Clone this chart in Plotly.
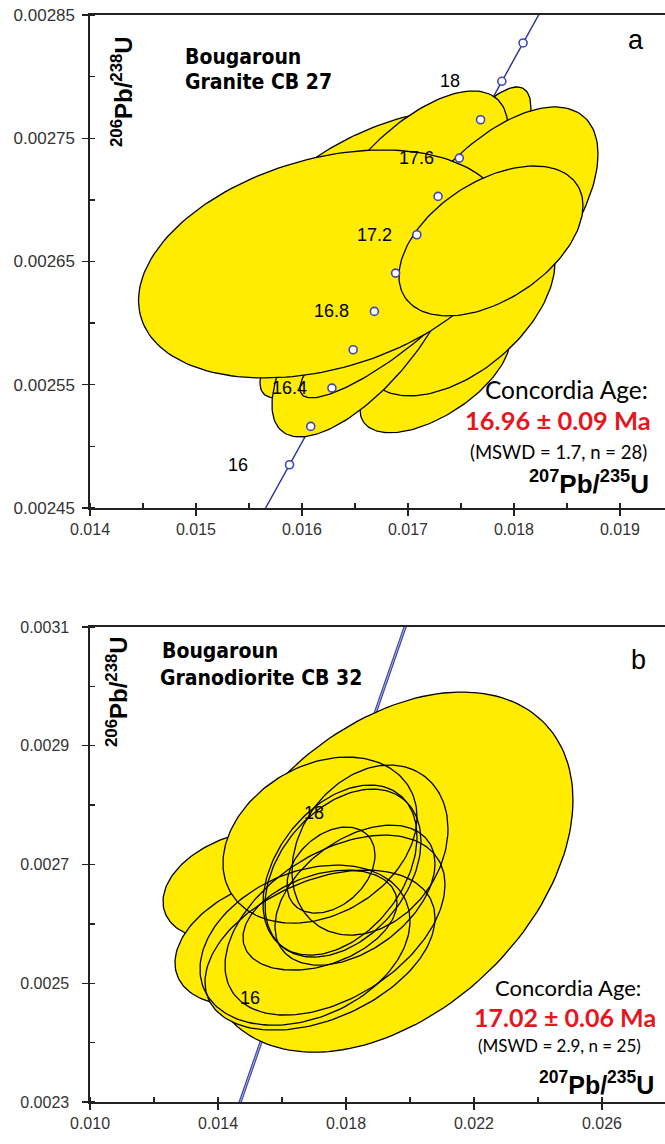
import numpy as np
import plotly.graph_objects as go

W, H = 665, 1144

# ---------------- data ----------------
# Panel a (Granite CB 27): ellipse centres and 2-sigma half widths, error correlation
a_names = ["a06", "a03", "a02", "a04", "a10", "a12", "a07", "a08", "a09", "a01", "a05"]
a_x   = [0.016736, 0.017500, 0.017000, 0.017774, 0.017255, 0.017472, 0.016547, 0.016594, 0.016830, 0.016203, 0.017783]
a_sx  = [0.001415, 0.000660, 0.000943, 0.001019, 0.000708, 0.000915, 0.000943, 0.000877, 0.000849, 0.001745, 0.000868]
a_y   = [0.0026837, 0.0027064, 0.0027024, 0.0026797, 0.0025581, 0.0026132, 0.0026205, 0.0025945, 0.0025978, 0.0026480, 0.0026667]
a_sy  = [0.0000892, 0.0000852, 0.0000860, 0.0000957, 0.0000470, 0.0000722, 0.0000811, 0.0000868, 0.0000584, 0.0000925, 0.0000608]
a_rho = [0.50, 0.80, 0.65, 0.60, 0.60, 0.50, 0.85, 0.70, 0.87, 0.32, 0.47]

# Panel b (Granodiorite CB 32)
b_back_x   = [0.0193125, 0.0148438, 0.0156250]
b_back_sx  = [0.0057800, 0.0025625, 0.0029688]
b_back_y   = [0.0026872, 0.0026653, 0.0025726]
b_back_sy  = [0.0003033, 0.0000927, 0.0001095]
b_back_rho = [0.40, 0.30, 0.35]

b_x   = [0.0171875, 0.0176563, 0.0167188, 0.0171875, 0.0187500, 0.0178125, 0.0179063, 0.0182813, 0.0171875, 0.0175313]
b_sx  = [0.0035938, 0.0034375, 0.0032813, 0.0030313, 0.0024375, 0.0024063, 0.0024375, 0.0025000, 0.0024063, 0.0013750]
b_y   = [0.0025558, 0.0025979, 0.0025642, 0.0027411, 0.0027243, 0.0026906, 0.0026855, 0.0026484, 0.0026063, 0.0026906]
b_sy  = [0.0001348, 0.0001516, 0.0001348, 0.0001398, 0.0001432, 0.0001432, 0.0001415, 0.0001179, 0.0000842, 0.0000725]
b_rho = [0.40, 0.45, 0.30, 0.28, 0.25, 0.39, 0.38, 0.45, 0.35, 0.35]

# Concordia age markers (Ma) and ratios
conc_age = [16.0, 16.2, 16.4, 16.6, 16.8, 17.0, 17.2, 17.4, 17.6, 17.8, 18.0, 18.2]
conc_x   = [0.0158824, 0.0160826, 0.0162826, 0.0164828, 0.0166831, 0.0168834,
            0.0170837, 0.0172841, 0.0174845, 0.0176849, 0.0178853, 0.0180859]
conc_y   = [0.0024851, 0.0025162, 0.0025473, 0.0025784, 0.0026095, 0.0026406,
            0.0026717, 0.0027028, 0.0027339, 0.0027650, 0.0027962, 0.0028273]
a_line_x = [0.0154823, 0.0158824, 0.0168834, 0.0178853, 0.0184870]
a_line_y = [0.0024229, 0.0024851, 0.0026406, 0.0027962, 0.0028895]
b_line_x = [0.0144827, 0.0158824, 0.0178853, 0.0200932]
b_line_y = [0.0022674, 0.0024851, 0.0027962, 0.0031384]
a_labels = ["16", "16.4", "16.8", "17.2", "17.6", "18"]
b_labels = ["16", "18"]

# Axis ticks
a_xticks = [0.014, 0.015, 0.016, 0.017, 0.018, 0.019]
a_yticks = [0.00245, 0.00255, 0.00265, 0.00275, 0.00285]
b_xticks = [0.010, 0.014, 0.018, 0.022, 0.026]
b_yticks = [0.0023, 0.0025, 0.0027, 0.0029, 0.0031]

# ---------------- helpers ----------------
YELLOW = "#FFEC00"
BLUE = "#2E3192"
RED = "#E5161E"
NARROW = "Liberation Sans Narrow, DejaVu Sans Condensed, Arial Narrow, sans-serif"
ARIAL = "Liberation Sans, Arial, sans-serif"
HUMAN = "Lato, Open Sans, sans-serif"


def ell(x, sx, y, sy, r, n=160):
    t = np.linspace(0, 2 * np.pi, n)
    return x + sx * np.cos(t), y + sy * (r * np.cos(t) + np.sqrt(1 - r * r) * np.sin(t))


fig = go.Figure()


def add_ell(xr, yr, x, sx, y, sy, r, fill=True, line=True):
    ex, ey = ell(x, sx, y, sy, r)
    fig.add_trace(go.Scatter(
        x=ex, y=ey, xaxis=xr, yaxis=yr, mode="lines",
        fill="toself" if fill else None,
        fillcolor=YELLOW if fill else None,
        line=dict(color="black" if line else "rgba(0,0,0,0)", width=1.3),
        hoverinfo="skip", showlegend=False))


# Panel a
fig.add_trace(go.Scatter(x=a_line_x, y=a_line_y, xaxis="x", yaxis="y", mode="lines",
                         line=dict(color=BLUE, width=1.4), showlegend=False, hoverinfo="skip"))
for i in range(len(a_x)):
    add_ell("x", "y", a_x[i], a_sx[i], a_y[i], a_sy[i], a_rho[i])
fig.add_trace(go.Scatter(x=conc_x, y=conc_y, xaxis="x", yaxis="y", mode="markers",
                         marker=dict(size=8, color="white", line=dict(color="#4146B4", width=1.6)),
                         showlegend=False, hoverinfo="skip"))

# Panel b
fig.add_trace(go.Scatter(x=b_line_x, y=b_line_y, xaxis="x2", yaxis="y2", mode="lines",
                         line=dict(color="#3C46A8", width=3.2), showlegend=False, hoverinfo="skip"))
fig.add_trace(go.Scatter(x=b_line_x, y=b_line_y, xaxis="x2", yaxis="y2", mode="lines",
                         line=dict(color="#B4B8E6", width=0.9), showlegend=False, hoverinfo="skip"))
for i in range(len(b_back_x)):
    add_ell("x2", "y2", b_back_x[i], b_back_sx[i], b_back_y[i], b_back_sy[i], b_back_rho[i])
for i in range(len(b_x)):
    add_ell("x2", "y2", b_x[i], b_sx[i], b_y[i], b_sy[i], b_rho[i], fill=True, line=False)
for i in range(len(b_x)):
    add_ell("x2", "y2", b_x[i], b_sx[i], b_y[i], b_sy[i], b_rho[i], fill=False, line=True)

# ---------------- layout ----------------
def dom_x(l, r):
    return [l / W, r / W]


def dom_y(top, bottom):
    return [1 - bottom / H, 1 - top / H]


axis_common = dict(showgrid=False, zeroline=False, showline=True, linecolor="#222",
                   linewidth=1.6, ticks="outside", ticklen=6, tickwidth=1.3, tickcolor="#222",
                   automargin=False)
tf16 = dict(family=ARIAL, size=16, color="#333")
tf17 = dict(family=ARIAL, size=17, color="#333")

fig.update_layout(
    width=W, height=H, margin=dict(l=0, r=0, t=0, b=0, autoexpand=False),
    paper_bgcolor="white", plot_bgcolor="white", showlegend=False,
    xaxis=dict(domain=dom_x(90, 665), range=[0.014, 0.019425], anchor="y", mirror=True,
               tickvals=a_xticks, ticktext=[f"{v:.3f}" for v in a_xticks], tickfont=tf16,
               minor=dict(dtick=0.0005, tick0=0.014, ticks="inside", ticklen=5, tickcolor="#222"),
               **axis_common),
    yaxis=dict(domain=dom_y(15, 508), range=[0.00245, 0.00285], anchor="x",
               tickvals=a_yticks, ticktext=[f"{v:.5f}" for v in a_yticks], ticklabelstandoff=4,
               tickfont=tf17,
               minor=dict(dtick=0.00005, tick0=0.00245, ticks="inside", ticklen=5, tickcolor="#222"),
               **axis_common),
    xaxis2=dict(domain=dom_x(90, 665), range=[0.010, 0.027969], anchor="y2", mirror=True,
                tickvals=b_xticks, ticktext=[f"{v:.3f}" for v in b_xticks], tickfont=tf16,
                minor=dict(dtick=0.002, tick0=0.010, ticks="inside", ticklen=5, tickcolor="#222"),
                **axis_common),
    yaxis2=dict(domain=dom_y(627, 1102), range=[0.0023, 0.0031], anchor="x2",
                tickvals=b_yticks, ticktext=[f"{v:.4f}" for v in b_yticks], ticklabelstandoff=10,
                tickfont=tf16,
                minor=dict(dtick=0.0001, tick0=0.0023, ticks="inside", ticklen=5, tickcolor="#222"),
                **axis_common),
)

ann = []


def txt(px, py, text, size, family, color="black", xanchor="center", angle=0):
    ann.append(dict(x=px / W, y=1 - py / H, xref="paper", yref="paper", text=text,
                    showarrow=False, xanchor=xanchor, yanchor="middle", textangle=angle,
                    font=dict(size=size, family=family, color=color)))


# Panel a texts
txt(183, 57, "<b>Bougaroun</b>", 21, NARROW, xanchor="left")
txt(183, 82, "<b>Granite CB 27</b>", 21, NARROW, xanchor="left")
txt(636, 40, "a", 27, ARIAL)
txt(122, 92, "<b><sup>206</sup>Pb/<sup>238</sup>U</b>", 24, ARIAL, angle=-90)
txt(650, 390, "Concordia Age:", 24.5, HUMAN, xanchor="right")
txt(653, 420, "<b>16.96 ± 0.09 Ma</b>", 25.5, HUMAN, color=RED, xanchor="right")
txt(649, 452, "(MSWD = 1.7, n = 28)", 18.5, HUMAN, xanchor="right")
txt(651, 482, "<b><sup>207</sup>Pb/<sup>235</sup>U</b>", 26, ARIAL, xanchor="right")

# Panel b texts
txt(160, 651, "<b>Bougaroun</b>", 21, NARROW, xanchor="left")
txt(158, 678, "<b>Granodiorite CB 32</b>", 21, NARROW, xanchor="left")
txt(638, 660, "b", 27, ARIAL)
txt(117, 692, "<b><sup>206</sup>Pb/<sup>238</sup>U</b>", 24, ARIAL, angle=-90)
txt(643, 987, "Concordia Age:", 22, HUMAN, xanchor="right")
txt(658, 1017, "<b>17.02 ± 0.06 Ma</b>", 25, HUMAN, color=RED, xanchor="right")
txt(643, 1045, "(MSWD = 2.9, n = 25)", 17, HUMAN, xanchor="right")
txt(656, 1083, "<b><sup>207</sup>Pb/<sup>235</sup>U</b>", 25, ARIAL, xanchor="right")

# concordia age labels
for lab in a_labels:
    i = conc_age.index(float(lab))
    ann.append(dict(x=conc_x[i], y=conc_y[i], xref="x", yref="y", text=lab, showarrow=False,
                    xanchor="right", yanchor="middle", xshift=-40 if len(lab) <= 2 else -23,
                    font=dict(size=18, family=ARIAL, color="black")))
for lab in b_labels:
    i = conc_age.index(float(lab))
    ann.append(dict(x=conc_x[i], y=conc_y[i], xref="x2", yref="y2", text=lab, showarrow=False,
                    xanchor="right", yanchor="middle", xshift=-16, yshift=-6,
                    font=dict(size=18, family=ARIAL, color="black")))

fig.update_layout(annotations=ann)
fig.write_html("out.html", config={"displayModeBar": False, "staticPlot": True},
               post_script="document.body.style.margin='0';document.body.style.padding='0';"
                           "document.documentElement.style.overflow='hidden';"
                           "document.body.style.overflow='hidden';")
